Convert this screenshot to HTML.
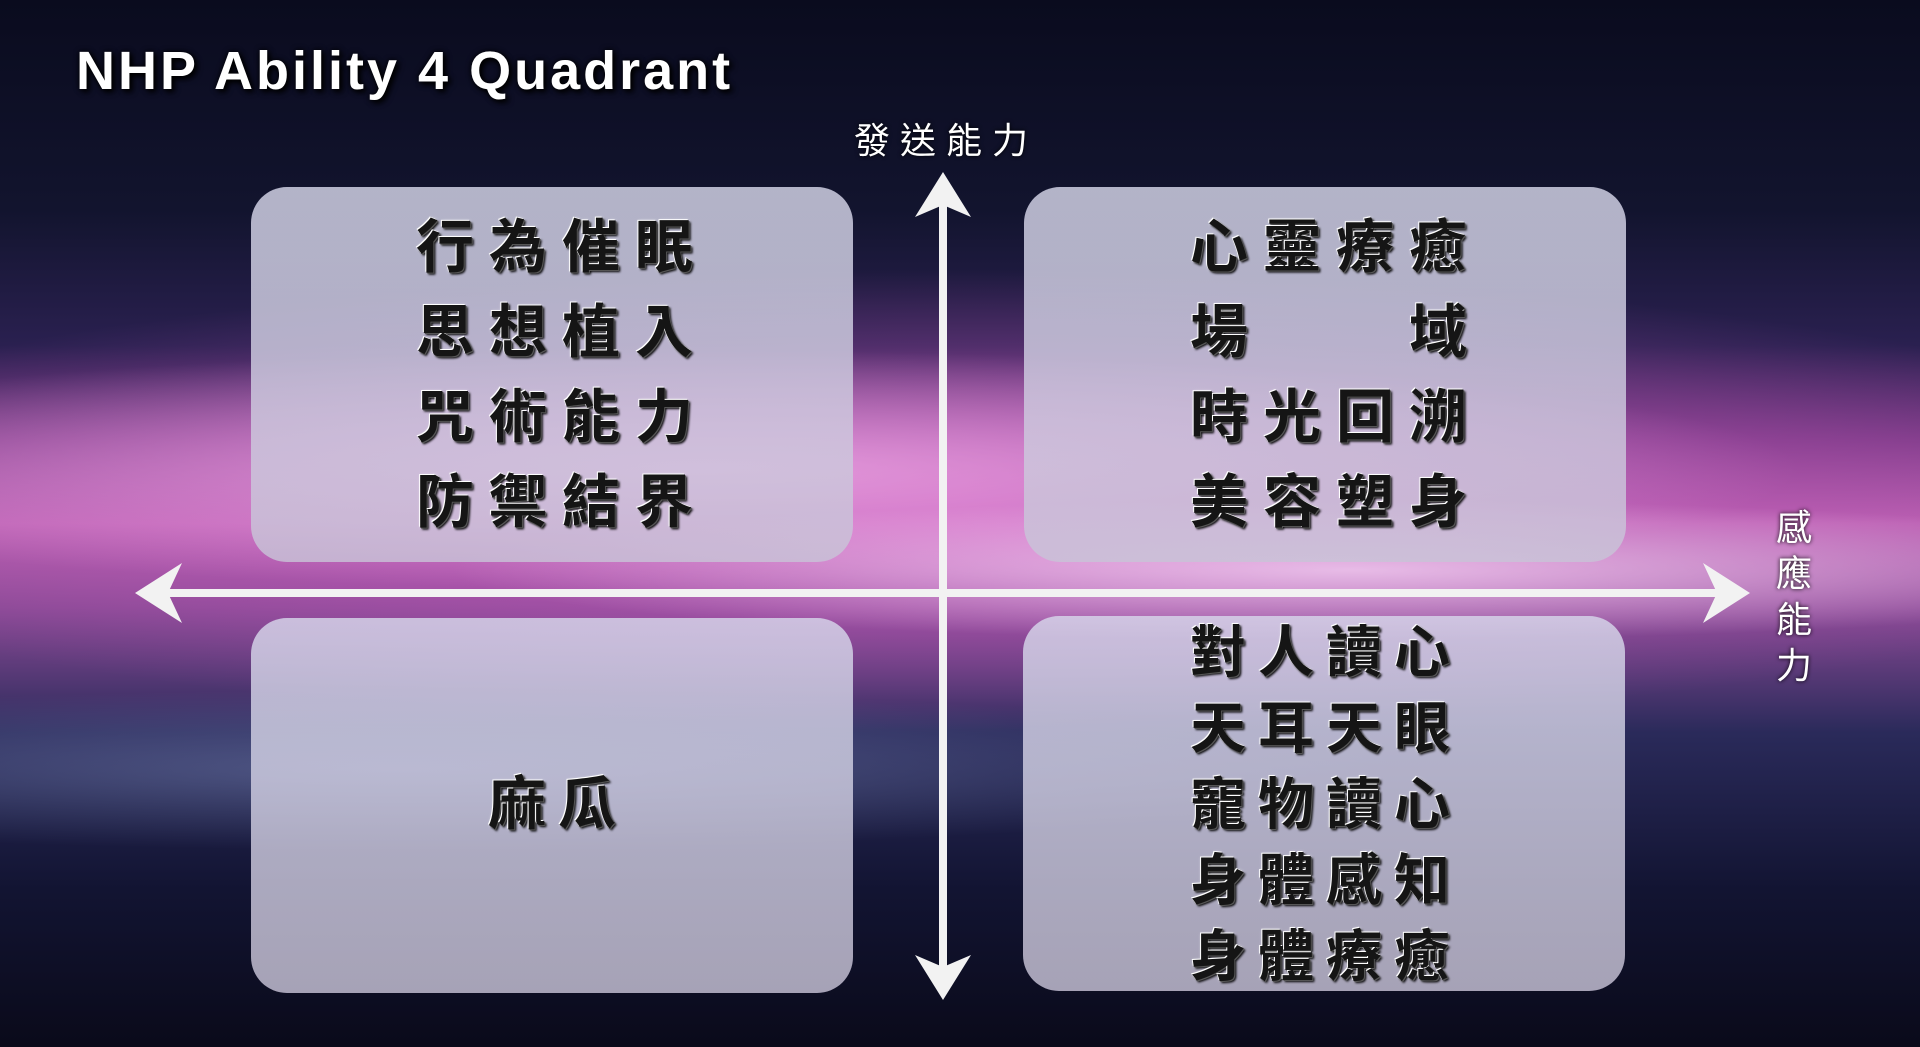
<!DOCTYPE html>
<html><head><meta charset="utf-8"><style>
body{margin:0;width:1920px;height:1047px;overflow:hidden;position:relative;font-family:"Liberation Sans","Noto Sans CJK TC",sans-serif;
background:
radial-gradient(ellipse 900px 70px at 1350px 570px,rgba(255,230,255,0.7),transparent),
radial-gradient(ellipse 1100px 120px at 700px 470px,rgba(240,170,230,0.8),transparent),
radial-gradient(ellipse 1300px 230px at 960px 500px,rgba(200,90,190,0.75),transparent),
radial-gradient(ellipse 1000px 80px at 400px 770px,rgba(160,180,230,0.35),transparent),
linear-gradient(180deg,#0a0b1e 0%,#12142e 20%,#2a2050 33%,#7a3a86 42%,#b860b0 50%,#8a4a96 58%,#2a2a5a 70%,#121432 85%,#0a0a1a 100%);}
.box{position:absolute;width:602px;height:375px;border-radius:36px;background:linear-gradient(180deg,rgba(215,215,235,0.82),rgba(200,195,215,0.82));}
.t{position:absolute;font-family:"Noto Sans CJK TC",sans-serif;font-weight:700;color:#151515;white-space:nowrap;
text-shadow:-1px -1px 0 #fff,1px 1px 0 #555,2px 2px 2px #000,0 0 3px rgba(255,255,255,0.6);line-height:1}
.lbl{position:absolute;color:#fff;font-family:"Noto Sans CJK TC",sans-serif;font-size:36px;text-shadow:0 0 4px #000}
</style></head><body>
<div style="position:absolute;left:76px;top:40px;font-size:54px;color:#fff;font-weight:bold;letter-spacing:3px;text-shadow:0 0 6px #000,3px 3px 6px #000">NHP Ability 4 Quadrant</div>
<div class="box" style="left:251px;top:187px"></div>
<div class="box" style="left:1024px;top:187px"></div>
<div class="box" style="left:251px;top:618px"></div>
<div class="box" style="left:1023px;top:616px"></div>
<svg width="1920" height="1047" style="position:absolute;left:0;top:0">
<g fill="#f2f2f2" stroke="none">
<rect x="939" y="205" width="8" height="770"/>
<rect x="160" y="589" width="1565" height="8"/>
<polygon points="943,172 915,217 943,205 971,217"/>
<polygon points="943,1000 915,955 943,967 971,955"/>
<polygon points="135,593 182,563 168,593 182,623"/>
<polygon points="1750,593 1703,563 1717,593 1703,623"/>
</g></svg>
<div class="lbl" style="left:854px;top:112px;letter-spacing:10px">發送能力</div>
<div class="lbl" style="left:1776px;top:502px;width:40px;line-height:46px">感<br>應<br>能<br>力</div>
<div class="t" style="left:416px;top:200px;font-size:58px;letter-spacing:15px;line-height:85px">行為催眠<br>思想植入<br>咒術能力<br>防禦結界</div>
<div class="t" style="left:1190px;top:200px;font-size:58px;letter-spacing:15px;line-height:85px">心靈療癒<br>場　　域<br>時光回溯<br>美容塑身</div>
<div class="t" style="left:488px;top:770px;font-size:58px;letter-spacing:12px">麻瓜</div>
<div class="t" style="left:1190px;top:611px;font-size:56px;letter-spacing:12px;line-height:76px">對人讀心<br>天耳天眼<br>寵物讀心<br>身體感知<br>身體療癒</div>
</body></html>
